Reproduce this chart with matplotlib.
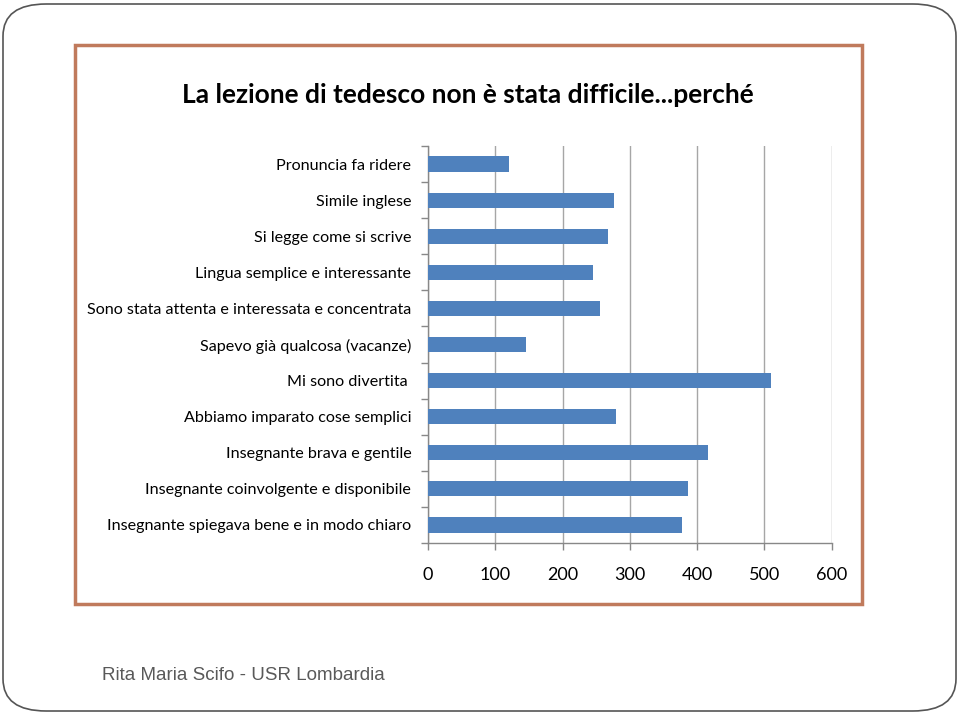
import matplotlib.pyplot as plt
import numpy as np
from matplotlib.patches import FancyBboxPatch, Rectangle

# dati
categorie = [
    "Pronuncia fa ridere",
    "Simile inglese",
    "Si legge come si scrive",
    "Lingua semplice e interessante",
    "Sono stata attenta e interessata e concentrata",
    "Sapevo già qualcosa (vacanze)",
    "Mi sono divertita ",
    "Abbiamo imparato cose semplici",
    "Insegnante brava e gentile",
    "Insegnante coinvolgente e disponibile",
    "Insegnante spiegava bene e in modo chiaro",
]
valori = [121, 277, 267, 245, 256, 146, 510, 279, 416, 387, 378]
xticks = [0, 100, 200, 300, 400, 500, 600]

titolo = "La lezione di tedesco non è stata difficile...perché"
piede = "Rita Maria Scifo - USR Lombardia"

font_narrow = ["Lato", "DejaVu Sans"]

W, H = 960, 714
fig = plt.figure(figsize=(W / 100, H / 100), dpi=100)
fig.patch.set_facecolor("white")

# bordo della slide (rettangolo arrotondato)
slide = FancyBboxPatch((3 / W, 3 / H), 953 / W, 707 / H,
                       boxstyle="round,pad=0,rounding_size=0.045",
                       transform=fig.transFigure, fill=False,
                       edgecolor="#555555", lw=1.2)
fig.patches.append(slide)

# cornice del grafico
cornice = Rectangle((75 / W, 1 - 604 / H), (862 - 75) / W, (604 - 45) / H,
                    transform=fig.transFigure, fill=False,
                    edgecolor="#C07A5C", lw=2.5)
fig.patches.append(cornice)

ax = fig.add_axes([428 / W, 1 - 543 / H, (831.5 - 428) / W, (543 - 146) / H])

y = np.arange(len(categorie))
ax.barh(y, valori, height=0.42, color="#4F81BD", zorder=3)

ax.set_xlim(0, 600)
ax.set_ylim(len(categorie) - 0.5, -0.5)
ax.set_xticks(xticks)
ax.set_xticklabels([str(t) for t in xticks], fontsize=13, family=font_narrow)
ax.set_yticks(y)
ax.set_yticklabels(categorie, fontsize=11.6, family=font_narrow)
ax.tick_params(axis="y", length=0, pad=12)
ax.set_yticks(np.arange(-0.5, len(categorie), 1), minor=True)
ax.tick_params(axis="y", which="minor", length=5, color="#888888", width=1)
ax.tick_params(axis="x", length=5, color="#888888", width=1, pad=12)

ax.grid(axis="x", color="#A6A6A6", lw=1, zorder=0)
for s in ["top", "right"]:
    ax.spines[s].set_visible(False)
for s in ["left", "bottom"]:
    ax.spines[s].set_color("#888888")
    ax.spines[s].set_linewidth(1)

fig.text(468 / W, 1 - 95 / H, titolo, ha="center", va="center",
         fontsize=19, fontweight="bold", family=font_narrow)
fig.text(102 / W, 1 - 675 / H, piede, ha="left", va="center",
         fontsize=13.5, color="#595959", family=["Liberation Sans", "DejaVu Sans"])

fig.savefig("out.png", dpi=100)
